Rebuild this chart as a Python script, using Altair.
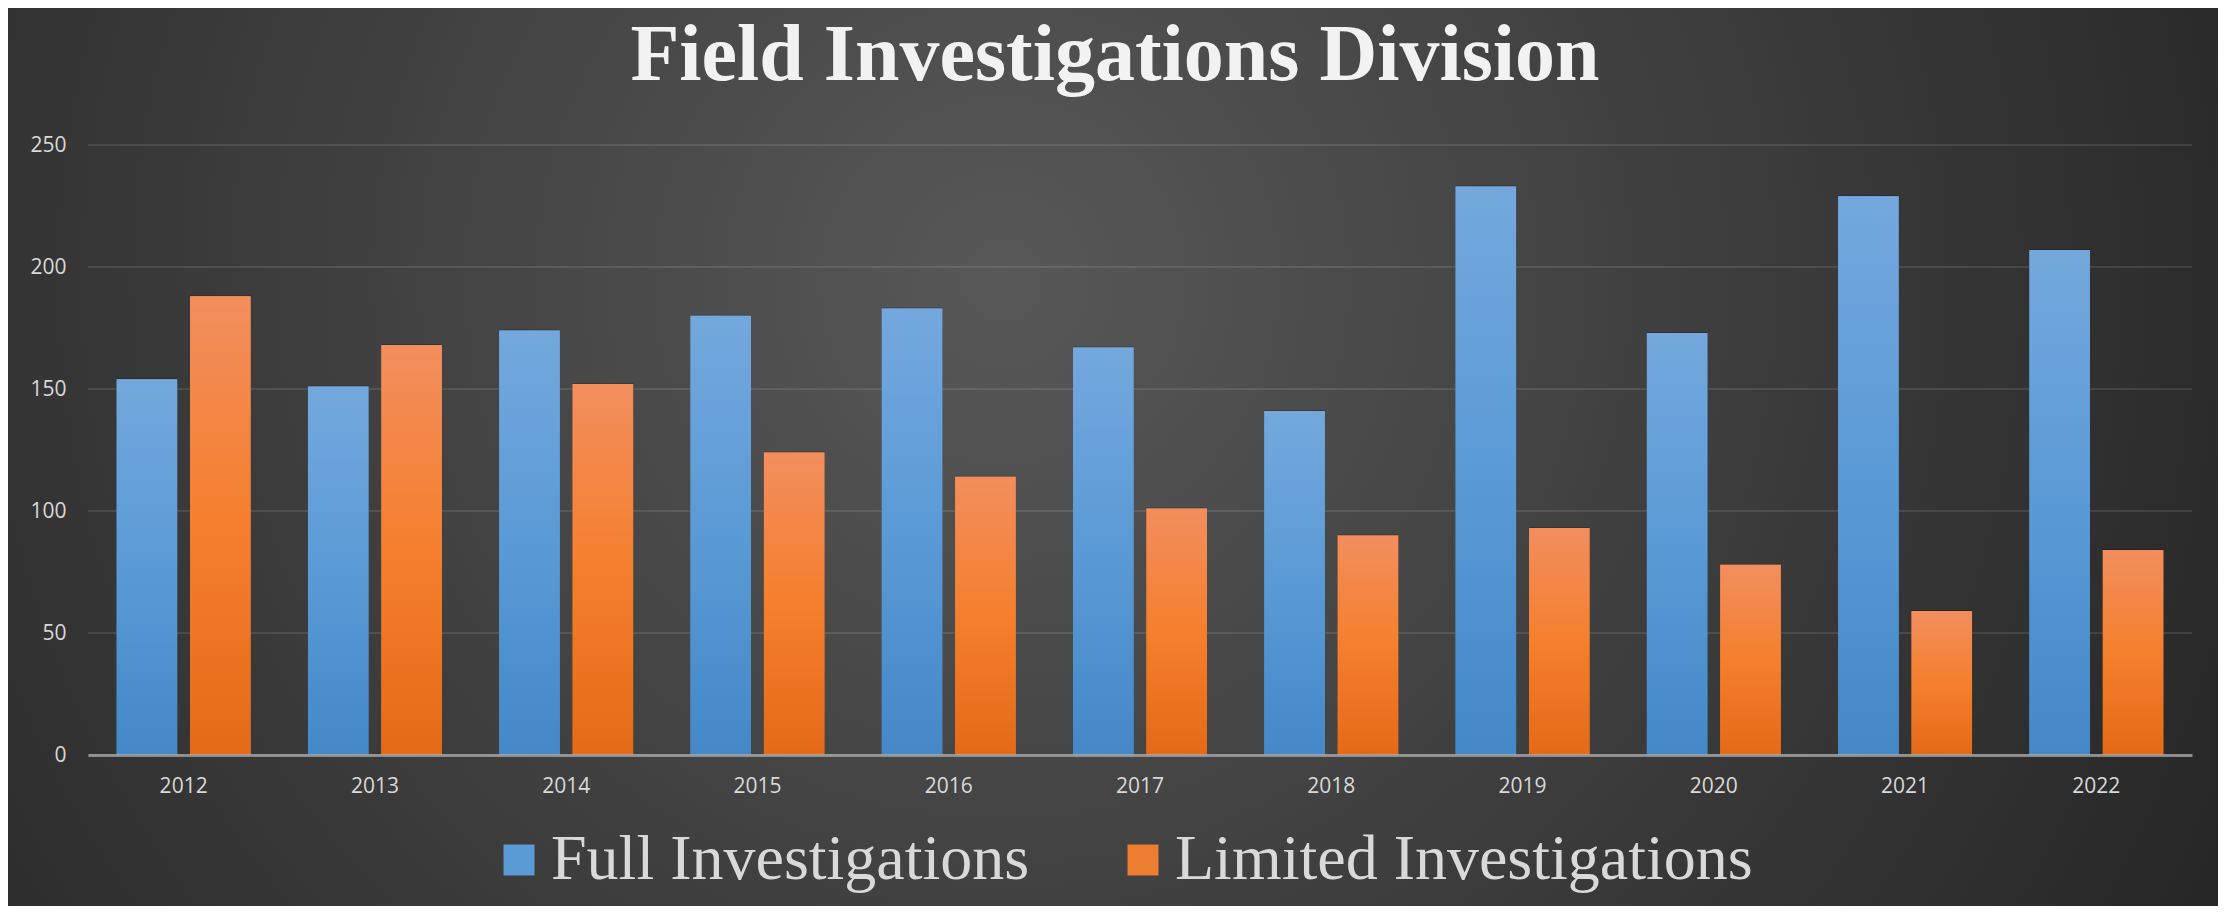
import altair as alt
import pandas as pd

years = ["2012", "2013", "2014", "2015", "2016", "2017", "2018", "2019", "2020", "2021", "2022"]
full_investigations = [154, 151, 174, 180, 183, 167, 141, 233, 173, 229, 207]
limited_investigations = [188, 168, 152, 124, 114, 101, 90, 93, 78, 59, 84]
series = ["Full Investigations", "Limited Investigations"]
y_ticks = [0, 50, 100, 150, 200, 250]

rows = []
for yr, f, l in zip(years, full_investigations, limited_investigations):
    rows.append({"Year": yr, "Series": series[0], "Value": f})
    rows.append({"Year": yr, "Series": series[1], "Value": l})
df = pd.DataFrame(rows)
grid_df = pd.DataFrame({"v": y_ticks})

W, H = 2104, 610
PAD = {"left": 80, "top": 137, "right": 26, "bottom": 151}

label_color = "#d9d9d9"

x_enc = alt.X(
    "Year:N", sort=years,
    scale=alt.Scale(paddingInner=0.3, paddingOuter=0.15),
    axis=alt.Axis(title=None, labelAngle=0, ticks=False, grid=False, domain=True,
                  domainColor="#b0b0b0", domainOpacity=0.7, domainWidth=3,
                  labelFont="Open Sans", labelFontSize=21, labelColor=label_color,
                  labelPadding=20, zindex=1),
)
xo_enc = alt.XOffset("Series:N", sort=series,
                     scale=alt.Scale(domain=series, paddingInner=0.176))
y_enc = alt.Y(
    "Value:Q",
    scale=alt.Scale(domain=[0, 250], nice=False),
    axis=alt.Axis(title=None, values=y_ticks, ticks=False, domain=False, grid=False,
                  labelFont="Open Sans", labelFontSize=21, labelColor=label_color,
                  labelPadding=22, zindex=1),
)

bg = alt.Chart(alt.Data(values=[{"a": 1}])).mark_rect(
    fill={"gradient": "radial", "x1": 0.45, "y1": 0.42, "r1": 0,
          "x2": 0.45, "y2": 0.42, "r2": 0.62,
          "stops": [{"offset": 0, "color": "#585858"},
                    {"offset": 0.55, "color": "#3c3c3c"},
                    {"offset": 1, "color": "#262626"}]},
    strokeWidth=0,
).encode(
    x=alt.value(-PAD["left"]), x2=alt.value(W + PAD["right"]),
    y=alt.value(-PAD["top"]), y2=alt.value(H + PAD["bottom"]),
)

grid = alt.Chart(grid_df).mark_rule(color="#ffffff", opacity=0.1, strokeWidth=2).encode(
    y=alt.Y("v:Q", scale=alt.Scale(domain=[0, 250], nice=False)),
    x=alt.value(0), x2=alt.value(W),
)

shadow = alt.Chart(df).mark_bar(color="#000000", opacity=0.22, xOffset=3, yOffset=-1).encode(
    x=x_enc, xOffset=xo_enc, y=y_enc,
)

base_bars = alt.Chart(df).mark_bar().encode(
    x=x_enc, xOffset=xo_enc, y=y_enc,
    color=alt.Color("Series:N", sort=series,
                    scale=alt.Scale(domain=series, range=["#5b9bd5", "#ed7d31"]),
                    legend=alt.Legend(title=None, orient="none", legendX=399, legendY=683,
                                      direction="horizontal", symbolType="square",
                                      symbolSize=961, symbolStrokeWidth=0,
                                      labelFont="Liberation Serif", labelFontSize=64,
                                      labelColor=label_color, labelLimit=1000,
                                      columnPadding=81, labelOffset=0, padding=0)),
)

blue_grad = {"gradient": "linear", "x1": 0, "y1": 0, "x2": 0, "y2": 1,
             "stops": [{"offset": 0, "color": "#74a8dd"},
                       {"offset": 0.5, "color": "#5a9ad6"},
                       {"offset": 1, "color": "#4488c8"}]}
orange_grad = {"gradient": "linear", "x1": 0, "y1": 0, "x2": 0, "y2": 1,
               "stops": [{"offset": 0, "color": "#f28e5e"},
                         {"offset": 0.5, "color": "#f57f2d"},
                         {"offset": 1, "color": "#e46a17"}]}

full_bars = alt.Chart(df).transform_filter(
    alt.datum.Series == series[0]
).mark_bar(fill=blue_grad).encode(x=x_enc, xOffset=xo_enc, y=y_enc)

lim_bars = alt.Chart(df).transform_filter(
    alt.datum.Series == series[1]
).mark_bar(fill=orange_grad).encode(x=x_enc, xOffset=xo_enc, y=y_enc)

chart = alt.layer(bg, grid, shadow, base_bars, full_bars, lim_bars).properties(
    width=W, height=H,
    autosize=alt.AutoSizeParams(type="none"),
    padding=PAD,
    background="#2b2b2b",
    title=alt.Title("Field Investigations Division", font="Liberation Serif",
                    fontSize=80, fontWeight="bold", color="#f2f2f2",
                    anchor="middle", baseline="alphabetic", offset=0, dx=-25, dy=152),
).configure_view(stroke=None)

chart.save("out.html", embed_options={"renderer": "svg", "actions": False})
